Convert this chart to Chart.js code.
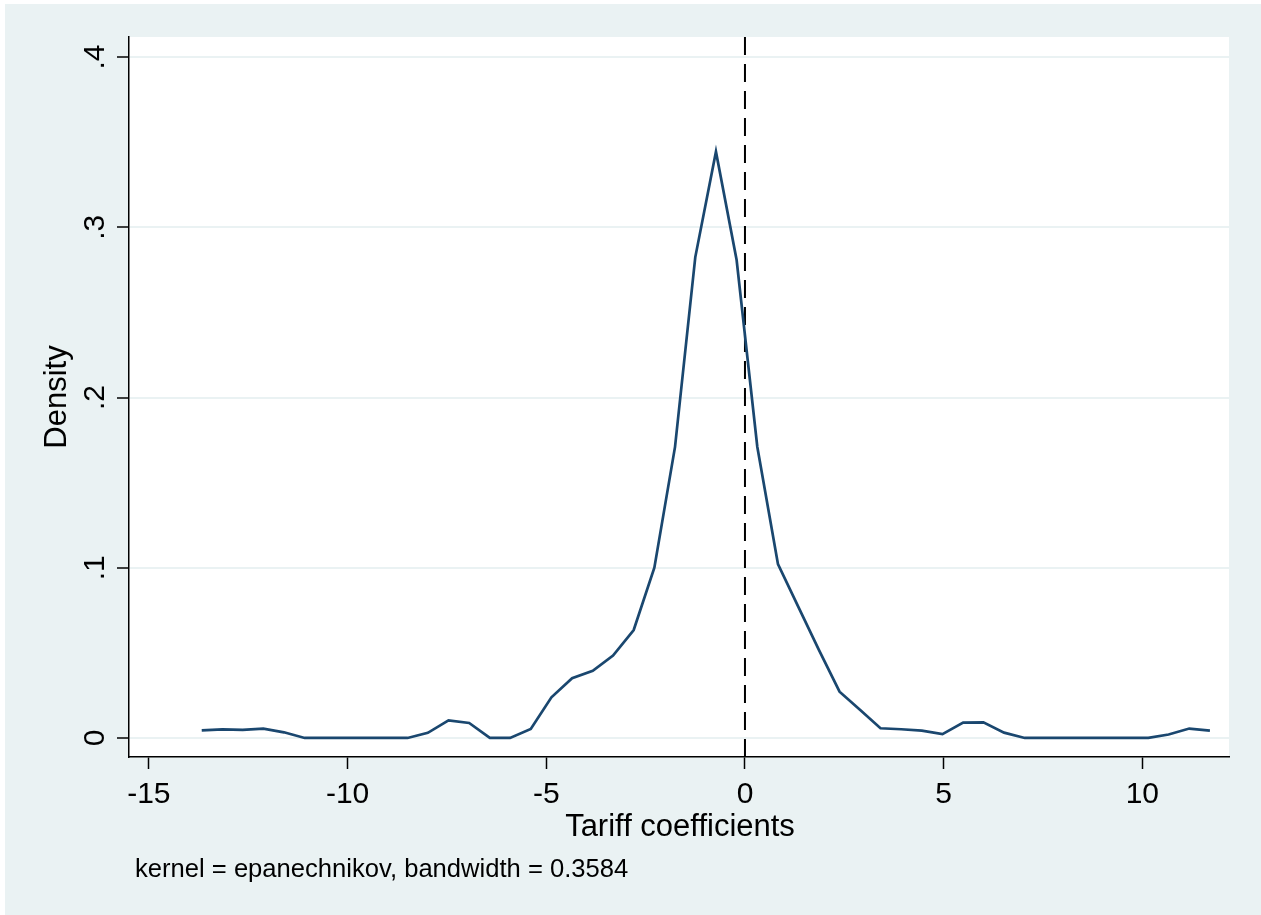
<!DOCTYPE html>
<html>
<head>
<meta charset="utf-8">
<script src="https://cdn.jsdelivr.net/npm/chart.js@4.4.1/dist/chart.umd.min.js"></script>
<style>
  html, body { margin: 0; padding: 0; background: #fff; }
  canvas { display: block; }
</style>
</head>
<body>
<canvas id="kdens" width="1261" height="915"></canvas>
<script>
// kdensity evaluation points (Tariff coefficients) and estimated density
const xs = [-13.67, -13.15, -12.64, -12.12, -11.60, -11.08, -10.57, -10.05, -9.53, -9.01,
            -8.49, -7.98, -7.46, -6.94, -6.42, -5.91, -5.39, -4.87, -4.35, -3.83,
            -3.32, -2.80, -2.28, -1.76, -1.25, -0.73, -0.21, 0.31, 0.83, 1.34,
            1.86, 2.38, 2.90, 3.41, 3.93, 4.45, 4.97, 5.49, 6.00, 6.52,
            7.04, 7.56, 8.07, 8.59, 9.11, 9.63, 10.15, 10.66, 11.18, 11.70];
const density = [0.0044, 0.0050, 0.0047, 0.0055, 0.0033, 0, 0, 0, 0, 0,
                 0, 0.0030, 0.0103, 0.0088, 0, 0, 0.0053, 0.0239, 0.0351, 0.0394,
                 0.0484, 0.0634, 0.1000, 0.1710, 0.2825, 0.3444, 0.2808, 0.1711, 0.1022, 0.0771,
                 0.0517, 0.0272, 0.0164, 0.0057, 0.0051, 0.0043, 0.0022, 0.0090, 0.0092, 0.0031,
                 0, 0, 0, 0, 0, 0, 0, 0.0020, 0.0055, 0.0043];

const xTicks = [-15, -10, -5, 0, 5, 10];
const yTicks = [0, 0.1, 0.2, 0.3, 0.4];
const yTickLabels = ['0', '.1', '.2', '.3', '.4'];
const refLineX = 0;

const X_MIN = -15.5, X_MAX = 12.18;
const Y_MIN = -0.0112, Y_MAX = 0.4118;

const FONT = "'Liberation Sans', Arial, Helvetica, sans-serif";
const BG = '#EAF2F3';

const backdrop = {
  id: 'backdrop',
  beforeDraw(chart) {
    const { ctx, width, height, chartArea: a } = chart;
    ctx.save();
    ctx.fillStyle = '#fff';
    ctx.fillRect(0, 0, width, height);
    ctx.fillStyle = BG;
    ctx.fillRect(5, 4, width - 5, height - 4);
    ctx.fillStyle = '#fff';
    ctx.fillRect(a.left, a.top, a.right - a.left, a.bottom - a.top);
    ctx.restore();
  }
};

const texts = {
  id: 'texts',
  afterDraw(chart) {
    const { ctx, chartArea: a } = chart;
    const y = chart.scales.y;
    ctx.save();
    ctx.fillStyle = '#000';
    ctx.textAlign = 'center';
    ctx.textBaseline = 'alphabetic';
    // rotated y tick labels
    ctx.font = '30px ' + FONT;
    yTicks.forEach((v, i) => {
      ctx.save();
      ctx.translate(103.5, y.getPixelForValue(v));
      ctx.rotate(-Math.PI / 2);
      ctx.fillText(yTickLabels[i], 0, 0);
      ctx.restore();
    });
    // y title
    ctx.font = '31px ' + FONT;
    ctx.save();
    ctx.translate(65.5, (a.top + a.bottom) / 2);
    ctx.rotate(-Math.PI / 2);
    ctx.fillText('Density', 0, 0);
    ctx.restore();
    // x title
    ctx.fillText('Tariff coefficients', (a.left + a.right) / 2 + 1, 835.5);
    // note
    ctx.font = '25.6px ' + FONT;
    ctx.textAlign = 'left';
    ctx.fillText('kernel = epanechnikov, bandwidth = 0.3584', 135, 876.5);
    ctx.restore();
  }
};

new Chart(document.getElementById('kdens').getContext('2d'), {
  type: 'line',
  data: {
    datasets: [
      {
        data: xs.map((x, i) => ({ x: x, y: density[i] })),
        borderColor: '#1a476f',
        borderWidth: 2.7,
        pointRadius: 0,
        tension: 0,
        fill: false
      },
      {
        data: [{ x: refLineX, y: Y_MAX }, { x: refLineX, y: Y_MIN }],
        borderColor: '#000',
        borderWidth: 2,
        borderDash: [18, 9],
        pointRadius: 0,
        fill: false
      }
    ]
  },
  options: {
    responsive: false,
    animation: false,
    devicePixelRatio: 1,
    layout: { padding: { left: 0, right: 32, top: 37, bottom: 0 } },
    plugins: { legend: { display: false }, tooltip: { enabled: false } },
    scales: {
      x: {
        type: 'linear',
        min: X_MIN,
        max: X_MAX,
        afterBuildTicks: s => { s.ticks = xTicks.map(v => ({ value: v })); },
        afterFit: s => { s.height = 158; },
        grid: { drawOnChartArea: false, drawTicks: true, tickLength: 12, tickColor: '#000', tickWidth: 1.5 },
        border: { display: true, color: '#000', width: 1.5 },
        ticks: {
          color: '#000',
          font: { family: FONT, size: 30 },
          padding: 8,
          maxRotation: 0,
          autoSkip: false,
          callback: v => String(v)
        }
      },
      y: {
        type: 'linear',
        min: Y_MIN,
        max: Y_MAX,
        afterBuildTicks: s => { s.ticks = yTicks.map(v => ({ value: v })); },
        afterFit: s => { s.width = 129; },
        grid: { color: BG, lineWidth: 2, drawTicks: true, tickLength: 12, tickColor: '#000', tickWidth: 1.5 },
        border: { display: true, color: '#000', width: 1.5 },
        ticks: { display: false }
      }
    }
  },
  plugins: [backdrop, texts]
});
</script>
</body>
</html>
